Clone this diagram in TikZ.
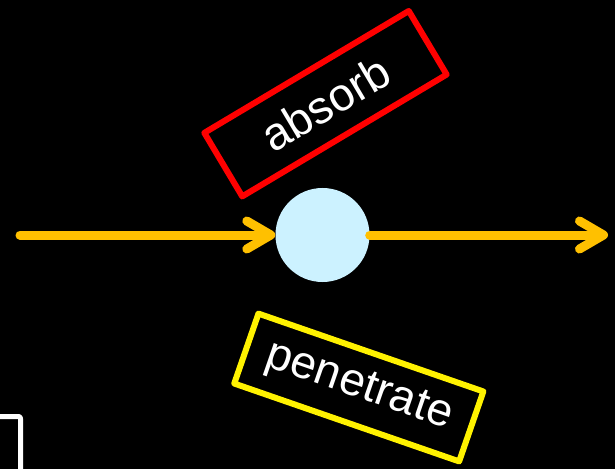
\documentclass[tikz,border=0pt]{standalone}
\usepackage{fontspec}
\setmainfont{Liberation Sans}
\usetikzlibrary{arrows.meta}
\definecolor{beam}{HTML}{FFC000}
\definecolor{ball}{HTML}{CCF2FF}
\tikzset{
  every picture/.style={line join=round, line cap=round, x=1pt, y=1pt},
  beamline/.style={draw=beam, line width=9pt, -{Straight Barb[length=24pt,width=28pt,round]}},
  labelbox/.style={draw=#1, line width=6pt, text=white, minimum width=238pt, minimum height=74pt, inner sep=0pt, font=\fontsize{46}{50}\selectfont},
}

\begin{document}
\begin{tikzpicture}
\fill[black](0,0) rectangle (615,469);
\useasboundingbox (0,0) rectangle (615,469);
\node[circle,fill=ball,minimum size=94pt,inner sep=0pt] (dot) at (322.5,234) {};
\coordinate (start) at (20,234);
\coordinate (end) at (608,234);
\draw[beamline](start)--(dot);
\draw[beamline](dot)--(end);
\node[labelbox=red,rotate=30.8] (absorb) at (325.5,365.3) {absorb};
\node[labelbox=yellow,rotate=-19.1] (penetrate) at (358.8,81.5) {penetrate};
\draw[white,line width=5pt,rounded corners=2pt] (-40,-40) -- (-40,52.5) -- (20.5,52.5) -- (20.5,-40);
\end{tikzpicture}
\end{document}
